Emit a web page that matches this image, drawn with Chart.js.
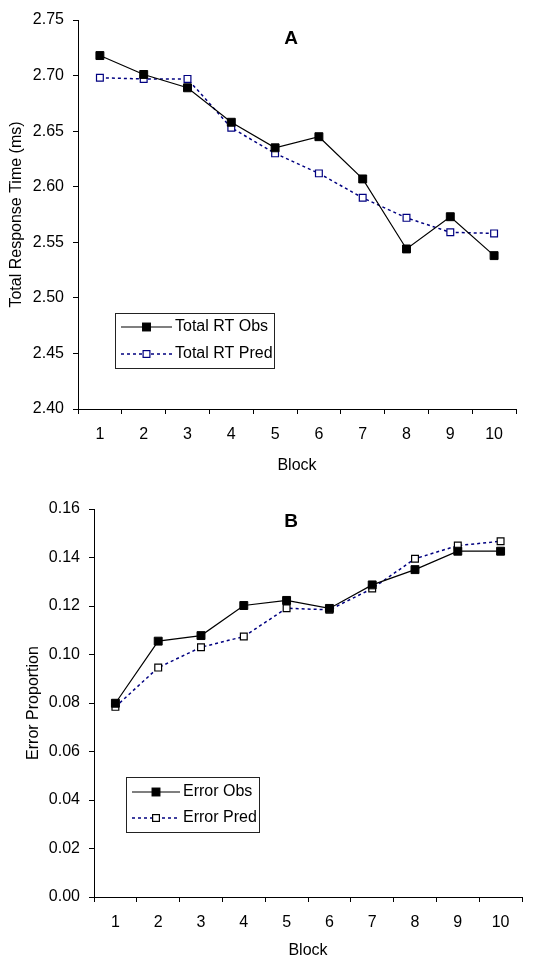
<!DOCTYPE html>
<html>
<head>
<meta charset="utf-8">
<script src="https://cdn.jsdelivr.net/npm/chart.js@4/dist/chart.umd.min.js"></script>
<style>
  html, body { margin: 0; padding: 0; background: #fff; }
  .panel { position: absolute; left: 0; width: 558px; height: 480px; }
  #wrapA { top: 0; }
  #wrapB { top: 480px; }
</style>
</head>
<body>
<div class="panel" id="wrapA"><canvas id="chartA" width="558" height="480"></canvas></div>
<div class="panel" id="wrapB"><canvas id="chartB" width="558" height="480"></canvas></div>
<script>
// values
const blocks = ['1', '2', '3', '4', '5', '6', '7', '8', '9', '10'];
const rtObs  = [2.718, 2.701, 2.689, 2.658, 2.635, 2.645, 2.607, 2.544, 2.573, 2.538];
const rtPred = [2.698, 2.697, 2.697, 2.653, 2.630, 2.612, 2.590, 2.572, 2.559, 2.558];
const errObs  = [0.0799, 0.1055, 0.1078, 0.1202, 0.1223, 0.1190, 0.1287, 0.1350, 0.1426, 0.1426];
const errPred = [0.0784, 0.0946, 0.1030, 0.1074, 0.1191, 0.1184, 0.1272, 0.1395, 0.1449, 0.1467];
const rtRange  = [2.40, 2.75, 0.05];
const errRange = [0.00, 0.16, 0.02];

const FONT = '"Liberation Sans", Arial, sans-serif';
Chart.defaults.font.family = FONT;
Chart.defaults.font.size = 16;
Chart.defaults.color = '#000';

// draws the panel letter and the boxed legend inside the plot
const panelDecor = {
    id: 'panelDecor',
    afterDraw(chart, args, opts) {
        const ctx = chart.ctx;
        ctx.save();
        ctx.fillStyle = '#000';
        ctx.font = 'bold 19px ' + FONT;
        ctx.textAlign = 'center';
        ctx.textBaseline = 'middle';
        ctx.fillText(opts.letter, opts.letterX, opts.letterY);

        const b = opts.box;
        ctx.fillStyle = '#fff';
        ctx.fillRect(b.x, b.y, b.w, b.h);
        ctx.strokeStyle = '#222';
        ctx.lineWidth = 1;
        ctx.strokeRect(b.x + 0.5, b.y + 0.5, b.w, b.h);

        chart.data.datasets.forEach((ds, i) => {
            const y = b.y + opts.rows[i];
            const x0 = b.x + 6, x1 = b.x + opts.lineLen;
            ctx.strokeStyle = ds.borderColor;
            ctx.lineWidth = ds.borderWidth;
            ctx.setLineDash(ds.borderDash || []);
            ctx.beginPath();
            ctx.moveTo(x0, y);
            ctx.lineTo(x1, y);
            ctx.stroke();
            ctx.setLineDash([]);
            const mx = (x0 + x1) / 2;
            const s = ds.pointRadius * Math.SQRT1_2;
            ctx.fillStyle = ds.pointBackgroundColor;
            ctx.fillRect(mx - s, y - s, 2 * s, 2 * s);
            ctx.strokeStyle = ds.pointBorderColor;
            ctx.lineWidth = ds.pointBorderWidth;
            ctx.strokeRect(mx - s, y - s, 2 * s, 2 * s);
            ctx.fillStyle = '#000';
            ctx.font = '16px ' + FONT;
            ctx.textAlign = 'left';
            ctx.textBaseline = 'middle';
            ctx.fillText(ds.label, x1 + 3, y);
        });
        ctx.restore();
    }
};

function makeChart(id, cfg) {
    const ctx = document.getElementById(id).getContext('2d');
    return new Chart(ctx, {
        type: 'line',
        data: {
            labels: blocks,
            datasets: [{
                label: cfg.names[0],
                data: cfg.obs,
                borderColor: '#000',
                borderWidth: 1.2,
                pointStyle: 'rect',
                pointRadius: 5.6,
                pointBackgroundColor: '#000',
                pointBorderColor: '#000',
                pointBorderWidth: 1,
                tension: 0
            }, {
                label: cfg.names[1],
                data: cfg.pred,
                borderColor: '#000080',
                borderWidth: 1.5,
                borderDash: [3, 3],
                pointStyle: 'rect',
                pointRadius: 4.8,
                pointBackgroundColor: '#fff',
                pointBorderColor: cfg.predEdge,
                pointBorderWidth: 1.2,
                tension: 0
            }]
        },
        options: {
            responsive: false,
            devicePixelRatio: 1,
            animation: false,
            layout: { padding: { top: cfg.top, right: cfg.right, bottom: 0, left: 0 } },
            plugins: {
                legend: { display: false },
                tooltip: { enabled: false },
                panelDecor: cfg.decor
            },
            scales: {
                x: {
                    offset: true,
                    grid: { offset: true, drawOnChartArea: false, tickLength: 5, color: '#000' },
                    border: { color: '#000', width: 1 },
                    ticks: { padding: 11, maxRotation: 0 },
                    title: { display: true, text: 'Block', padding: { top: 0, bottom: cfg.xTitlePad } },
                    afterFit: s => { s.height = cfg.xHeight; }
                },
                y: {
                    min: cfg.range[0],
                    max: cfg.range[1],
                    grid: { drawOnChartArea: false, tickLength: 5, color: '#000' },
                    border: { color: '#000', width: 1 },
                    ticks: {
                        stepSize: cfg.range[2],
                        padding: 9,
                        callback: v => Number(v).toFixed(2)
                    },
                    title: { display: true, text: cfg.yTitle, padding: { top: cfg.yTitlePad, bottom: 0 } },
                    afterFit: s => { s.width = cfg.yWidth; }
                }
            }
        },
        plugins: [panelDecor]
    });
}

makeChart('chartA', {
    names: ['Total RT Obs', 'Total RT Pred'],
    obs: rtObs, pred: rtPred, range: rtRange,
    predEdge: '#000080',
    yTitle: 'Total Response Time (ms)',
    top: 20, right: 42, xHeight: 71, yWidth: 78, yTitlePad: 7, xTitlePad: 5,
    decor: { letter: 'A', letterX: 291, letterY: 39,
             box: { x: 115, y: 313, w: 159, h: 55 }, rows: [14, 41], lineLen: 57 }
});

makeChart('chartB', {
    names: ['Error Obs', 'Error Pred'],
    obs: errObs, pred: errPred, range: errRange,
    predEdge: '#000',
    yTitle: 'Error Proportion',
    top: 29, right: 36, xHeight: 63, yWidth: 94, yTitlePad: 24, xTitlePad: 0,
    decor: { letter: 'B', letterX: 291, letterY: 42,
             box: { x: 126, y: 297, w: 133, h: 55 }, rows: [15, 41], lineLen: 54 }
});
</script>
</body>
</html>
